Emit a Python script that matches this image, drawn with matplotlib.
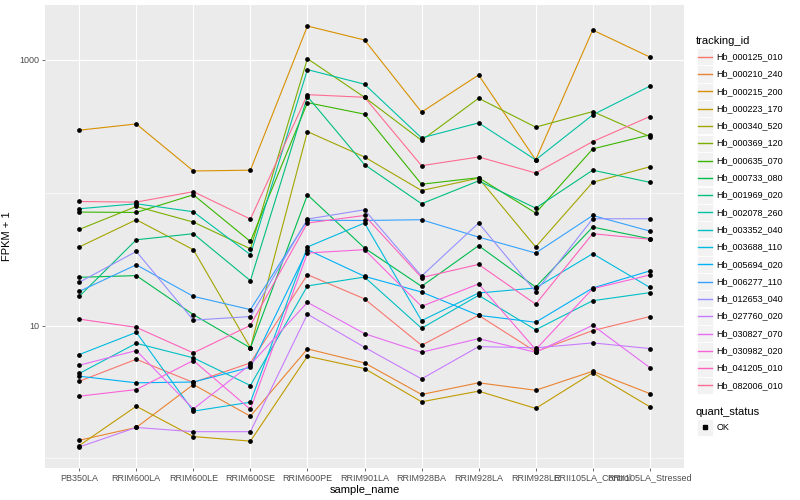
import numpy as np
import matplotlib
matplotlib.use("Agg")
import matplotlib.pyplot as plt
from matplotlib.patches import Rectangle
from matplotlib.lines import Line2D
from matplotlib.ticker import FixedLocator, NullFormatter

plt.rcParams['font.family'] = ['Liberation Sans', 'DejaVu Sans']

samples = ["PB350LA", "RRIM600LA", "RRIM600LE", "RRIM600SE", "RRIM600PE", "RRIM901LA",
           "RRIM928BA", "RRIM928LA", "RRIM928LE", "RRII105LA_Control", "RRII105LA_Stressed"]

tracking_ids = ["Hb_000125_010", "Hb_000210_240", "Hb_000215_200", "Hb_000223_170",
                "Hb_000340_520", "Hb_000369_120", "Hb_000635_070", "Hb_000733_080",
                "Hb_001969_020", "Hb_002078_260", "Hb_003352_040", "Hb_003688_110",
                "Hb_005694_020", "Hb_006277_110", "Hb_012653_040", "Hb_027760_020",
                "Hb_030827_070", "Hb_030982_020", "Hb_041205_010", "Hb_082006_010"]

# ggplot hue palette, 20 levels
colours = ["#F8766D", "#EA8331", "#D89000", "#C09B00", "#A3A500", "#7CAE00", "#39B600",
           "#00BB4E", "#00BF7D", "#00C1A3", "#00BFC4", "#00BAE0", "#00B0F6", "#35A2FF",
           "#9590FF", "#C77CFF", "#E76BF3", "#FA62DB", "#FF62BC", "#FF6C91"]

# FPKM + 1, one list per gene, in sample order
hb_000125_010 = [3.81, 5.58, 3.73, 5.24, 24.2, 15.9, 7.11, 11.95, 6.37, 9.17, 11.7]
hb_000210_240 = [1.37, 1.71, 3.60, 2.08, 6.68, 5.24, 3.03, 3.71, 3.26, 4.53, 3.08]
hb_000215_200 = [296, 330, 146, 148, 1801, 1414, 405, 771, 177, 1681, 1053]
hb_000223_170 = [1.25, 2.47, 1.46, 1.35, 5.88, 4.75, 2.67, 3.21, 2.38, 4.41, 2.45]
hb_000340_520 = [39.1, 62.7, 37.3, 6.80, 289, 186, 104, 129, 39.1, 120, 157]
hb_000369_120 = [53.0, 78.9, 60.2, 37.9, 1023, 524, 248, 515, 312, 409, 265]
hb_000635_070 = [71.6, 71.1, 96.6, 43.0, 477, 391, 116, 130, 70.4, 214, 273]
hb_000733_080 = [23.1, 23.8, 12.1, 6.80, 96.6, 38.4, 19.75, 40.0, 19.5, 55.2, 45.1]
hb_001969_020 = [16.6, 44.3, 49.2, 21.8, 530, 163, 82.7, 123, 76.7, 148, 120]
hb_002078_260 = [75.8, 82.7, 72.0, 34.2, 846, 657, 259, 336, 177, 386, 635]
hb_003352_040 = [4.36, 7.36, 5.72, 3.54, 19.9, 23.2, 9.55, 16.9, 9.3, 15.4, 17.7]
hb_003688_110 = [6.05, 8.9, 2.27, 2.65, 39.1, 59.2, 10.9, 17.6, 19.2, 34.8, 19.4]
hb_005694_020 = [4.16, 3.71, 3.76, 4.86, 37.3, 23.5, 17.9, 11.95, 10.6, 19.2, 25.8]
hb_006277_110 = [18.1, 28.7, 16.6, 13.2, 62.1, 61.9, 62.7, 46.4, 35.2, 67.5, 51.5]
hb_012653_040 = [21.2, 36.2, 11.0, 11.7, 63.4, 74.5, 23.6, 59.2, 18.0, 63.75, 63.75]
hb_027760_020 = [1.22, 1.71, 1.59, 1.59, 12.2, 6.87, 3.97, 6.95, 6.80, 7.41, 6.72]
hb_030827_070 = [5.03, 6.49, 2.36, 5.09, 14.97, 8.7, 6.30, 7.98, 6.30, 10.05, 4.83]
hb_030982_020 = [2.94, 3.30, 5.46, 2.34, 35.2, 37.3, 13.96, 20.6, 6.60, 18.97, 24.05]
hb_041205_010 = [11.2, 9.7, 6.23, 10.05, 59.2, 67.5, 23.0, 28.9, 14.5, 49.2, 44.7]
hb_082006_010 = [86.0, 85.1, 102, 63.4, 548, 524, 160, 186, 141, 243, 375]

series = [hb_000125_010, hb_000210_240, hb_000215_200, hb_000223_170, hb_000340_520,
          hb_000369_120, hb_000635_070, hb_000733_080, hb_001969_020, hb_002078_260,
          hb_003352_040, hb_003688_110, hb_005694_020, hb_006277_110, hb_012653_040,
          hb_027760_020, hb_030827_070, hb_030982_020, hb_041205_010, hb_082006_010]

W, H = 800, 500


def fx(x):
    return x / W


def fy(y):
    return 1 - y / H


fig = plt.figure(figsize=(8, 5), dpi=100)
ax = fig.add_axes([fx(45), fy(468), (684 - 45) / W, (468 - 5) / H])
ax.set_facecolor("#EBEBEB")
for s in ax.spines.values():
    s.set_visible(False)

xs = np.arange(len(samples))
for vals, col in zip(series, colours):
    ax.plot(xs, vals, color=col, lw=0.8, zorder=3)
for vals in series:
    ax.plot(xs, vals, ls="none", marker="o", ms=2.4, color="black", zorder=4)

ax.set_yscale("log")
lo = np.log10(min(min(v) for v in series))
hi = np.log10(max(max(v) for v in series))
pad = (hi - lo) * 0.05
ax.set_ylim(10 ** (lo - pad), 10 ** (hi + pad))
ax.set_xlim(-0.6, len(samples) - 0.4)

ax.set_xticks(xs)
ax.set_xticklabels(samples)
ax.yaxis.set_major_locator(FixedLocator([10, 1000]))
ax.set_yticklabels(["10", "1000"])
ax.yaxis.set_minor_locator(FixedLocator([1, 100]))
ax.yaxis.set_minor_formatter(NullFormatter())

ax.grid(True, which="major", color="white", lw=0.8, zorder=0)
ax.grid(True, which="minor", axis="y", color="white", lw=0.4, zorder=0)
ax.set_axisbelow(True)
ax.tick_params(which="major", length=2.2, width=0.5, color="#333333",
               labelcolor="#4D4D4D", labelsize=6.5, pad=1.8)
ax.tick_params(which="minor", length=0)

ax.set_xlabel("sample_name", fontsize=8, labelpad=2)
ax.set_ylabel("FPKM + 1", fontsize=8, labelpad=5)

# legend: tracking_id
fig.text(fx(696), fy(40.7), "tracking_id", fontsize=8, va="center", ha="left")
for i, (tid, col) in enumerate(zip(tracking_ids, colours)):
    cy = 56.7 + i * 17.3
    fig.add_artist(Rectangle((fx(696.5), fy(cy + 8.5)), 16.5 / W, 17 / H,
                             facecolor="#F2F2F2", edgecolor="white", lw=0.6,
                             transform=fig.transFigure, zorder=1))
    fig.add_artist(Line2D([fx(698), fx(711.5)], [fy(cy), fy(cy)], color=col, lw=1.0,
                          transform=fig.transFigure, zorder=2))
    fig.text(fx(716.5), fy(cy), tid, fontsize=6.5, va="center", ha="left")

# legend: quant_status
fig.text(fx(696), fy(411.7), "quant_status", fontsize=8, va="center", ha="left")
fig.add_artist(Rectangle((fx(696.5), fy(427.3 + 8.5)), 16.5 / W, 17 / H,
                         facecolor="#F2F2F2", edgecolor="white", lw=0.6,
                         transform=fig.transFigure, zorder=1))
fig.add_artist(Line2D([fx(704.8)], [fy(427.3)], marker="s", ms=2.4, color="black",
                      ls="none", transform=fig.transFigure, zorder=2))
fig.text(fx(716.5), fy(427.3), "OK", fontsize=6.5, va="center", ha="left")

fig.savefig("out.png", dpi=100)
